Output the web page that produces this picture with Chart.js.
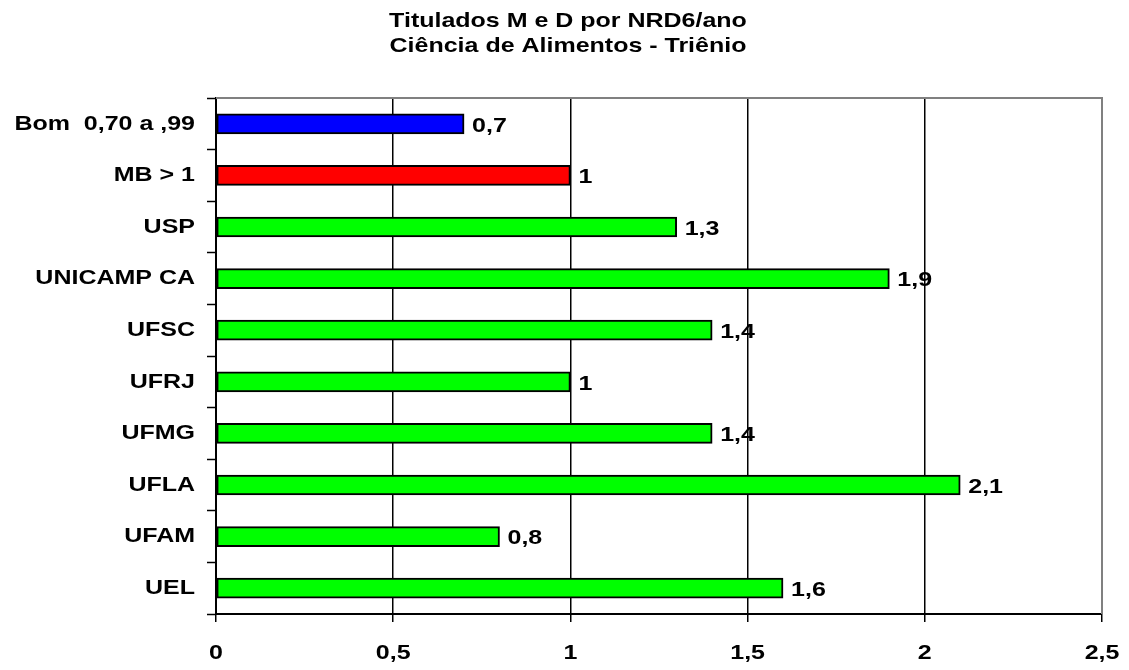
<!DOCTYPE html>
<html>
<head>
<meta charset="utf-8">
<script src="https://cdn.jsdelivr.net/npm/chart.js@4.4.1/dist/chart.umd.min.js"></script>
<style>
  html, body { margin: 0; padding: 0; background: #fff; }
  #wrap { width: 1129px; height: 670px; position: relative; }
</style>
</head>
<body>
<div id="wrap"><canvas id="c" width="1129" height="670"></canvas></div>
<script>
// ---- data ----
const titleLines = ['Titulados M e D por NRD6/ano', 'Ciência de Alimentos - Triênio'];
const categories = ['Bom  0,70 a ,99', 'MB > 1', 'USP', 'UNICAMP CA', 'UFSC', 'UFRJ', 'UFMG', 'UFLA', 'UFAM', 'UEL'];
const values = [0.7, 1, 1.3, 1.9, 1.4, 1, 1.4, 2.1, 0.8, 1.6];
const xTickValues = [0, 0.5, 1, 1.5, 2, 2.5];
const xTickLabels = ['0', '0,5', '1', '1,5', '2', '2,5'];
const xMin = 0, xMax = 2.5, xStep = 0.5;

// ---- styles ----
const barColors = ['#0000ff', '#ff0000', '#00ff00', '#00ff00', '#00ff00', '#00ff00', '#00ff00', '#00ff00', '#00ff00', '#00ff00'];
const FONT_FAMILY = "'Liberation Sans', Arial, sans-serif";
const TEXT_STRETCH = 1.19; // the reference text is horizontally widened

const fmt = v => String(v).replace('.', ',');

// widen all text drawn on this canvas horizontally
const canvas = document.getElementById('c');
const cx = canvas.getContext('2d');
const origFill = cx.fillText;
const origMeasure = cx.measureText;
cx.fillText = function (t, x, y, mw) {
  this.save();
  this.translate(x, y);
  this.scale(TEXT_STRETCH, 1);
  if (mw !== undefined && mw !== null) origFill.call(this, t, 0, 0, mw / TEXT_STRETCH);
  else origFill.call(this, t, 0, 0);
  this.restore();
};
cx.measureText = function (t) {
  const m = origMeasure.call(this, t);
  return {
    width: m.width * TEXT_STRETCH,
    actualBoundingBoxAscent: m.actualBoundingBoxAscent,
    actualBoundingBoxDescent: m.actualBoundingBoxDescent,
    actualBoundingBoxLeft: m.actualBoundingBoxLeft * TEXT_STRETCH,
    actualBoundingBoxRight: m.actualBoundingBoxRight * TEXT_STRETCH
  };
};

const framePlugin = {
  id: 'frame',
  beforeDatasetsDraw(chart) {
    const { ctx, chartArea: a } = chart;
    ctx.save();
    ctx.strokeStyle = '#808080';
    ctx.lineWidth = 2;
    ctx.beginPath();
    ctx.moveTo(a.left, a.top);
    ctx.lineTo(a.right, a.top);
    ctx.lineTo(a.right, a.bottom);
    ctx.stroke();
    ctx.restore();
  }
};

const labelPlugin = {
  id: 'valueLabels',
  afterDatasetsDraw(chart) {
    const { ctx } = chart;
    const meta = chart.getDatasetMeta(0);
    ctx.save();
    ctx.font = "bold 21px " + FONT_FAMILY;
    ctx.fillStyle = '#000';
    ctx.textAlign = 'left';
    ctx.textBaseline = 'middle';
    meta.data.forEach((bar, i) => {
      ctx.fillText(fmt(values[i]), bar.x + 8, bar.y + 2);
    });
    ctx.restore();
  }
};

new Chart(canvas, {
  type: 'bar',
  data: {
    labels: categories,
    datasets: [{
      data: values,
      backgroundColor: barColors,
      borderColor: '#000',
      borderWidth: 2,
      borderSkipped: false,
      barThickness: 20
    }]
  },
  options: {
    indexAxis: 'y',
    responsive: false,
    animation: false,
    devicePixelRatio: 1,
    layout: { padding: { left: 7, right: 0, top: 0, bottom: 0 } },
    plugins: {
      legend: { display: false },
      tooltip: { enabled: false },
      title: {
        display: true,
        text: titleLines,
        color: '#000',
        font: { family: FONT_FAMILY, size: 21, weight: 'bold', lineHeight: 1.2 },
        padding: { top: 8.5, bottom: 39.1 }
      }
    },
    scales: {
      x: {
        type: 'linear',
        min: xMin,
        max: xMax,
        afterFit(scale) { scale.height = 56; scale.paddingLeft = 0; scale.paddingRight = 27; },
        afterBuildTicks(scale) { scale.ticks = xTickValues.map(v => ({ value: v })); },
        ticks: {
          stepSize: xStep,
          color: '#000',
          padding: 19,
          font: { family: FONT_FAMILY, size: 21, weight: 'bold' },
          callback: (v) => { const i = xTickValues.indexOf(v); return i >= 0 ? xTickLabels[i] : ''; },
          maxRotation: 0,
          autoSkip: false
        },
        grid: {
          color: '#000',
          lineWidth: 1.5,
          tickColor: '#000',
          tickLength: 8,
          tickWidth: 1.5
        },
        border: { display: true, color: '#000', width: 2 }
      },
      y: {
        type: 'category',
        afterFit(scale) { scale.width = 209; },
        ticks: {
          color: '#000',
          padding: 12,
          autoSkip: false,
          font: { family: FONT_FAMILY, size: 21, weight: 'bold' }
        },
        grid: {
          offset: true,
          drawOnChartArea: false,
          color: '#000',
          tickLength: 9,
          tickWidth: 1.5
        },
        border: { display: true, color: '#000', width: 2 }
      }
    }
  },
  plugins: [framePlugin, labelPlugin]
});
</script>
</body>
</html>
